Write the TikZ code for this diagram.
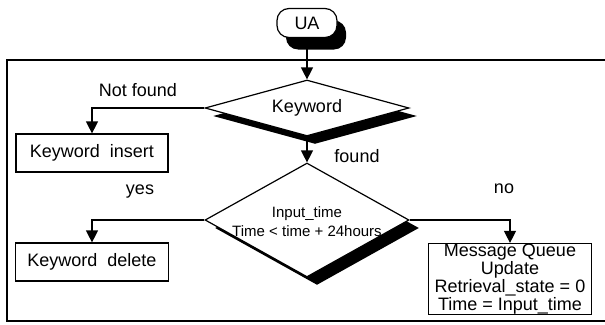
\documentclass[tikz,border=0pt]{standalone}
\usepackage{fontspec}
\setmainfont{Liberation Sans}
\usetikzlibrary{arrows.meta,shapes.geometric,shadows}

\begin{document}
\begin{tikzpicture}[x=1pt,y=-1pt,font=\fontsize{18}{15}\selectfont,line width=1.2pt,
  box/.style={draw,fill=white,inner sep=0pt},
  decision/.style={diamond,draw,fill=white,inner sep=0pt,
    drop shadow={shadow xshift=#1,shadow yshift=-8pt,fill=black,opacity=1}},
  decision/.default=8pt,
  flow/.style={-{Triangle[width=12pt,length=12pt]}}]

\useasboundingbox (0,0) rectangle (605,324);

% frame
\draw (605,60) -- (7,60) -- (7,321) -- (605,321);

\node[draw,fill=white,rounded corners=12pt,minimum width=60pt,minimum height=29pt,
  drop shadow={shadow xshift=9pt,shadow yshift=-12pt,fill=black,opacity=1}] (ua) at (307,23) {UA};

\node[decision,minimum width=204pt,minimum height=56pt,shape aspect=3.6] (kw) at (307,108) {Keyword};
\node[decision=10pt,minimum width=204pt,minimum height=114pt] (chk) at (307,220) {};
\node[font=\fontsize{15}{19}\selectfont,align=center] (chktext) at (307,222) {Input\_time\\Time < time + 24hours};

\node[box,minimum width=152pt,minimum height=38pt] (ins) at (92,153) {Keyword~ insert};
\node[box,minimum width=153pt,minimum height=38pt] (del) at (92,262) {Keyword~ delete};
\node[box,minimum width=163pt,minimum height=71pt,align=center] (mq) at (510,279)
  {Message Queue\\Update\\Retrieval\_state = 0\\Time = Input\_time};

\node (notfound) at (138,90) {Not found};
\node (found) at (357,156) {found};
\node (yes) at (140,192) {yes};
\node (no) at (504,189) {no};

\draw[flow] (ua) -- (kw.north);
\draw[flow] (kw.west) -| (ins.north);
\draw[flow] (kw.south) -- (chk.north);
\draw[flow] (chk.west) -| (del.north);
\draw[flow] (chk.east) -| (mq.north);

\end{tikzpicture}
\end{document}
